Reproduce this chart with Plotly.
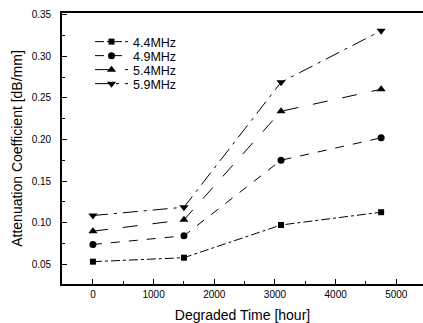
import plotly.graph_objects as go

hours = [0, 1500, 3100, 4750]
att_44 = [0.0528, 0.0576, 0.097, 0.1124]
att_49 = [0.0735, 0.084, 0.175, 0.202]
att_54 = [0.0895, 0.1032, 0.234, 0.2605]
att_59 = [0.1084, 0.1184, 0.269, 0.331]
names = ["4.4MHz", "4.9MHz", "5.4MHz", "5.9MHz"]
x_ticks = [0, 1000, 2000, 3000, 4000, 5000]
y_ticks = [0.05, 0.10, 0.15, 0.20, 0.25, 0.30, 0.35]

series = [att_44, att_49, att_54, att_59]
symbols = ["square", "circle", "triangle-up", "triangle-down"]
sizes = [6, 7, 8, 8]
dashes = ["dashdot", "dash", "longdash", "longdashdot"]

W, H = 423, 323
ML, MR, MT, MB = 62, 0, 13, 39
PW, PH = W - ML - MR, H - MT - MB
legend_x_px = 90
legend_rows_px = [42, 56, 70, 84]

fig = go.Figure()
legend_layouts = {}
for i, (vals, nm, sym, sz, ds) in enumerate(zip(series, names, symbols, sizes, dashes)):
    lg = "legend" if i == 0 else f"legend{i + 1}"
    fig.add_trace(go.Scatter(
        x=hours, y=vals, name=nm, mode="lines+markers", legend=lg,
        line=dict(color="black", width=1, dash=ds),
        marker=dict(symbol=sym, size=sz, color="black"),
    ))
    legend_layouts[lg] = dict(
        x=(legend_x_px - ML) / PW, y=(H - MB - legend_rows_px[i]) / PH,
        xanchor="left", yanchor="middle", bgcolor="rgba(0,0,0,0)",
        font=dict(size=12.5), itemwidth=33, borderwidth=0,
    )

font = "Liberation Sans, Arial, sans-serif"
fig.update_layout(
    width=W, height=H,
    margin=dict(l=ML, r=MR, t=MT, b=MB, autoexpand=False),
    paper_bgcolor="white", plot_bgcolor="white",
    font=dict(family=font, color="black", size=10),
    showlegend=True,
    xaxis=dict(
        range=[-510, 5440], tickvals=x_ticks, ticktext=[str(v) for v in x_ticks],
        ticks="inside", ticklen=5, tickwidth=1.2, tickcolor="black",
        minor=dict(dtick=500, tick0=0, ticks="inside", ticklen=3, tickcolor="black"),
        showline=True, linecolor="black", linewidth=1.8, mirror=True,
        showgrid=False, zeroline=False, automargin=False,
        title=dict(text="Degraded Time [hour]", font=dict(size=14)),
        tickfont=dict(size=10),
    ),
    yaxis=dict(
        range=[0.0259, 0.3524], tickvals=y_ticks, ticktext=[f"{v:.2f}" for v in y_ticks],
        ticks="inside", ticklen=5, tickwidth=1.2, tickcolor="black",
        minor=dict(dtick=0.025, tick0=0, ticks="inside", ticklen=3, tickcolor="black"),
        showline=True, linecolor="black", linewidth=1.8, mirror=False,
        showgrid=False, zeroline=False, automargin=False, ticklabelstandoff=7,
        title=dict(text="Attenuation Coefficient [dB/mm]", font=dict(size=14), standoff=6),
        tickfont=dict(size=10),
    ),
    **legend_layouts,
)

fig.write_html(
    "out.html",
    config={"displayModeBar": False},
    post_script="document.body.style.margin='0';document.body.style.overflow='hidden';",
)
